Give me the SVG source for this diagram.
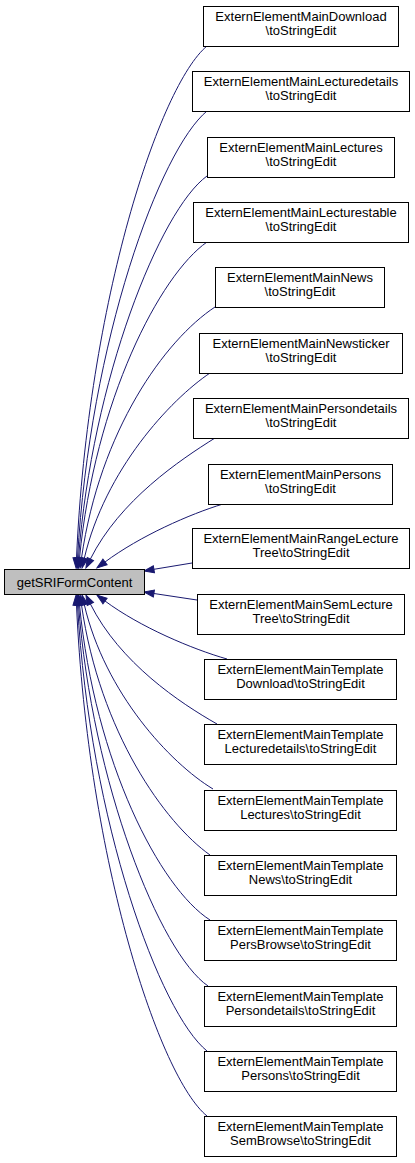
<svg xmlns="http://www.w3.org/2000/svg" width="415" height="1163" viewBox="0 0 415 1163">
<style>
.n rect{fill:#ffffff;stroke:#000000;stroke-width:1}
.m rect{fill:#bfbfbf;stroke:#000000;stroke-width:1}
text{font-family:"Liberation Sans",Arial,Helvetica,sans-serif;font-size:13px;text-anchor:middle;fill:#000000}
.e path{fill:none;stroke:#191970;stroke-width:1;marker-end:url(#arr)}
</style>
<defs>
<marker id="arr" markerUnits="userSpaceOnUse" markerWidth="12" markerHeight="10" refX="0" refY="3.5" orient="auto" overflow="visible">
<polygon points="0,0 10,3.5 0,7" fill="#191970" stroke="#191970" stroke-width="1"/>
</marker>
</defs>
<rect width="415" height="1163" fill="#ffffff"/>
<g class="e" id="edges">
<path d="M207,46 C160,85 88,300 76.5,558"/>
<path d="M207,111 C160,150 90,340 77.5,558"/>
<path d="M207,176 C160,210 92,380 78.5,558"/>
<path d="M207,242 C160,275 95,400 79.5,558"/>
<path d="M215,307 C165,340 100,430 81.5,558"/>
<path d="M210,373 C170,400 105,470 84.3,558.3"/>
<path d="M215,438 C180,460 120,500 90.4,559"/>
<path d="M223,504 C190,514 140,536 105,562"/>
<path d="M192,563 L153.9,569.3"/>
<path d="M197,600 L153.9,593.5"/>
<path d="M227,659 C192,649 140,627 105,601"/>
<path d="M217,724 C180,703 120,663 90.4,604"/>
<path d="M213,789 C170,763 105,693 84.3,604.7"/>
<path d="M210,855 C165,823 100,733 81.5,605"/>
<path d="M210,920 C160,888 95,763 79.5,605"/>
<path d="M208,986 C160,953 92,783 78.5,605"/>
<path d="M207,1051 C160,1013 90,823 77.5,605"/>
<path d="M207,1116 C160,1078 88,863 76.5,605"/>
</g>
<g class="m" id="main"><rect x="4.5" y="569.5" width="140" height="25"/><text x="74.5" y="586.5">getSRIFormContent</text></g>
<g class="n" id="n0"><rect x="203.5" y="6.5" width="195" height="40"/><text x="301" y="21">ExternElementMainDownload</text><text x="301" y="35">\toStringEdit</text></g>
<g class="n" id="n1"><rect x="192.5" y="71.5" width="217" height="40"/><text x="301" y="86">ExternElementMainLecturedetails</text><text x="301" y="100">\toStringEdit</text></g>
<g class="n" id="n2"><rect x="207.5" y="137.5" width="187" height="40"/><text x="301" y="152">ExternElementMainLectures</text><text x="301" y="166">\toStringEdit</text></g>
<g class="n" id="n3"><rect x="193.5" y="202.5" width="215" height="40"/><text x="301" y="217">ExternElementMainLecturestable</text><text x="301" y="231">\toStringEdit</text></g>
<g class="n" id="n4"><rect x="215.5" y="267.5" width="169" height="40"/><text x="300" y="282">ExternElementMainNews</text><text x="300" y="296">\toStringEdit</text></g>
<g class="n" id="n5"><rect x="199.5" y="333.5" width="203" height="40"/><text x="301" y="348">ExternElementMainNewsticker</text><text x="301" y="362">\toStringEdit</text></g>
<g class="n" id="n6"><rect x="193.5" y="398.5" width="215" height="40"/><text x="301" y="413">ExternElementMainPersondetails</text><text x="301" y="427">\toStringEdit</text></g>
<g class="n" id="n7"><rect x="208.5" y="464.5" width="184" height="40"/><text x="300.5" y="479">ExternElementMainPersons</text><text x="300.5" y="493">\toStringEdit</text></g>
<g class="n" id="n8"><rect x="192.5" y="528.5" width="217" height="40"/><text x="301" y="543">ExternElementMainRangeLecture</text><text x="301" y="557">Tree\toStringEdit</text></g>
<g class="n" id="n9"><rect x="197.5" y="594.5" width="207" height="40"/><text x="301" y="609">ExternElementMainSemLecture</text><text x="301" y="623">Tree\toStringEdit</text></g>
<g class="n" id="n10"><rect x="204.5" y="659.5" width="192" height="40"/><text x="300.5" y="674">ExternElementMainTemplate</text><text x="300.5" y="688">Download\toStringEdit</text></g>
<g class="n" id="n11"><rect x="204.5" y="724.5" width="192" height="40"/><text x="300.5" y="739">ExternElementMainTemplate</text><text x="300.5" y="753">Lecturedetails\toStringEdit</text></g>
<g class="n" id="n12"><rect x="204.5" y="790.5" width="192" height="40"/><text x="300.5" y="805">ExternElementMainTemplate</text><text x="300.5" y="819">Lectures\toStringEdit</text></g>
<g class="n" id="n13"><rect x="204.5" y="855.5" width="192" height="40"/><text x="300.5" y="870">ExternElementMainTemplate</text><text x="300.5" y="884">News\toStringEdit</text></g>
<g class="n" id="n14"><rect x="204.5" y="920.5" width="192" height="40"/><text x="300.5" y="935">ExternElementMainTemplate</text><text x="300.5" y="949">PersBrowse\toStringEdit</text></g>
<g class="n" id="n15"><rect x="204.5" y="986.5" width="192" height="40"/><text x="300.5" y="1001">ExternElementMainTemplate</text><text x="300.5" y="1015">Persondetails\toStringEdit</text></g>
<g class="n" id="n16"><rect x="204.5" y="1051.5" width="192" height="40"/><text x="300.5" y="1066">ExternElementMainTemplate</text><text x="300.5" y="1080">Persons\toStringEdit</text></g>
<g class="n" id="n17"><rect x="204.5" y="1116.5" width="192" height="40"/><text x="300.5" y="1131">ExternElementMainTemplate</text><text x="300.5" y="1145">SemBrowse\toStringEdit</text></g>
</svg>
